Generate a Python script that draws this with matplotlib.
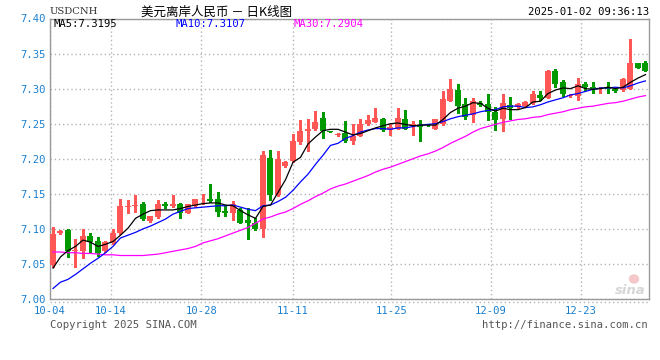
import matplotlib
matplotlib.use("Agg")
import matplotlib.pyplot as plt
from matplotlib.lines import Line2D
from matplotlib.patches import Ellipse
import numpy as np

# daily candles, 2024-10-04 .. 2025-01-02
opens = [7.048, 7.094, 7.098, 7.069, 7.068, 7.090, 7.082, 7.068, 7.080, 7.094,
         7.131, 7.132, 7.136, 7.111, 7.117, 7.136, 7.133, 7.136, 7.123, 7.132,
         7.142, 7.143, 7.142, 7.125, 7.123, 7.127, 7.112, 7.109, 7.100, 7.201,
         7.148, 7.189, 7.197, 7.224, 7.240, 7.242, 7.258, 7.239, 7.234, 7.237,
         7.225, 7.233, 7.249, 7.253, 7.257, 7.241, 7.243, 7.257, 7.246, 7.248,
         7.247, 7.243, 7.249, 7.283, 7.298, 7.278, 7.262, 7.279, 7.278, 7.267,
         7.256, 7.276, 7.274, 7.275, 7.279, 7.291, 7.287, 7.325, 7.309, 7.289,
         7.290, 7.307, 7.303, 7.299, 7.302, 7.300, 7.298, 7.300, 7.336, 7.337]
highs = [7.103, 7.098, 7.100, 7.085, 7.100, 7.094, 7.089, 7.082, 7.100, 7.143,
         7.141, 7.148, 7.139, 7.119, 7.141, 7.138, 7.149, 7.137, 7.136, 7.143,
         7.150, 7.164, 7.153, 7.132, 7.140, 7.130, 7.130, 7.116, 7.211, 7.213,
         7.211, 7.197, 7.236, 7.255, 7.256, 7.268, 7.266, 7.240, 7.237, 7.254,
         7.250, 7.256, 7.263, 7.272, 7.258, 7.250, 7.272, 7.270, 7.254, 7.255,
         7.248, 7.257, 7.297, 7.314, 7.306, 7.287, 7.287, 7.282, 7.292, 7.274,
         7.293, 7.288, 7.280, 7.282, 7.296, 7.297, 7.327, 7.328, 7.312, 7.292,
         7.315, 7.310, 7.309, 7.303, 7.310, 7.300, 7.315, 7.371, 7.337, 7.339]
lows = [7.046, 7.093, 7.060, 7.045, 7.059, 7.067, 7.062, 7.067, 7.079, 7.093,
        7.123, 7.124, 7.113, 7.110, 7.116, 7.130, 7.131, 7.116, 7.122, 7.131,
        7.135, 7.139, 7.118, 7.118, 7.113, 7.108, 7.086, 7.099, 7.088, 7.141,
        7.147, 7.188, 7.196, 7.221, 7.211, 7.241, 7.230, 7.238, 7.233, 7.224,
        7.221, 7.232, 7.248, 7.252, 7.240, 7.234, 7.242, 7.242, 7.234, 7.226,
        7.246, 7.242, 7.248, 7.282, 7.265, 7.257, 7.253, 7.275, 7.255, 7.241,
        7.240, 7.257, 7.272, 7.274, 7.278, 7.284, 7.286, 7.303, 7.290, 7.288,
        7.284, 7.298, 7.294, 7.294, 7.294, 7.295, 7.296, 7.299, 7.330, 7.325]
closes = [7.093, 7.097, 7.068, 7.070, 7.090, 7.081, 7.066, 7.081, 7.094, 7.132,
          7.133, 7.134, 7.114, 7.118, 7.135, 7.133, 7.136, 7.123, 7.135, 7.142,
          7.143, 7.140, 7.124, 7.123, 7.136, 7.109, 7.109, 7.100, 7.205, 7.148,
          7.199, 7.196, 7.226, 7.240, 7.243, 7.252, 7.239, 7.238, 7.236, 7.225,
          7.233, 7.250, 7.255, 7.258, 7.241, 7.245, 7.258, 7.243, 7.249, 7.245,
          7.246, 7.256, 7.285, 7.299, 7.275, 7.260, 7.282, 7.277, 7.267, 7.255,
          7.279, 7.273, 7.278, 7.281, 7.292, 7.287, 7.325, 7.307, 7.292, 7.291,
          7.307, 7.303, 7.300, 7.301, 7.299, 7.296, 7.314, 7.336, 7.330, 7.325]

ma5 = [7.044, 7.060, 7.069, 7.075, 7.084, 7.081, 7.075, 7.078, 7.082, 7.091,
       7.101, 7.115, 7.121, 7.126, 7.127, 7.127, 7.127, 7.129, 7.132, 7.134,
       7.136, 7.137, 7.137, 7.134, 7.133, 7.126, 7.120, 7.115, 7.132, 7.134,
       7.152, 7.170, 7.195, 7.202, 7.221, 7.231, 7.240, 7.242, 7.242, 7.238,
       7.234, 7.236, 7.240, 7.244, 7.247, 7.250, 7.251, 7.249, 7.247, 7.248,
       7.248, 7.248, 7.256, 7.266, 7.272, 7.275, 7.280, 7.279, 7.272, 7.268,
       7.272, 7.270, 7.270, 7.273, 7.281, 7.282, 7.293, 7.298, 7.301, 7.300,
       7.304, 7.300, 7.299, 7.300, 7.302, 7.300, 7.302, 7.309, 7.315, 7.320]
ma10 = [7.015, 7.024, 7.028, 7.035, 7.043, 7.051, 7.058, 7.066, 7.075, 7.087,
        7.091, 7.095, 7.100, 7.104, 7.109, 7.114, 7.121, 7.125, 7.129, 7.130,
        7.131, 7.132, 7.133, 7.133, 7.134, 7.131, 7.128, 7.126, 7.133, 7.134,
        7.139, 7.145, 7.155, 7.167, 7.178, 7.192, 7.205, 7.219, 7.222, 7.229,
        7.233, 7.238, 7.241, 7.243, 7.243, 7.242, 7.244, 7.244, 7.246, 7.248,
        7.249, 7.250, 7.253, 7.257, 7.260, 7.262, 7.264, 7.267, 7.269, 7.270,
        7.274, 7.275, 7.275, 7.273, 7.274, 7.277, 7.281, 7.284, 7.287, 7.291,
        7.293, 7.296, 7.299, 7.301, 7.301, 7.302, 7.301, 7.304, 7.308, 7.311]
ma30 = [7.067, 7.067, 7.066, 7.066, 7.065, 7.065, 7.064, 7.063, 7.063, 7.062,
        7.062, 7.062, 7.062, 7.063, 7.064, 7.066, 7.068, 7.070, 7.072, 7.075,
        7.080, 7.083, 7.086, 7.090, 7.094, 7.098, 7.102, 7.108, 7.114, 7.117,
        7.121, 7.124, 7.129, 7.135, 7.140, 7.146, 7.151, 7.157, 7.161, 7.164,
        7.168, 7.172, 7.176, 7.181, 7.185, 7.188, 7.192, 7.196, 7.200, 7.204,
        7.207, 7.211, 7.216, 7.222, 7.227, 7.232, 7.238, 7.243, 7.246, 7.249,
        7.252, 7.254, 7.256, 7.257, 7.259, 7.260, 7.263, 7.265, 7.267, 7.270,
        7.272, 7.274, 7.275, 7.277, 7.279, 7.280, 7.282, 7.285, 7.288, 7.290]

date_labels = ["10-04", "10-14", "10-28", "11-11", "11-25", "12-09", "12-23"]
date_pos = [-0.4, 7.7, 19.8, 32.0, 45.1, 58.4, 70.4]
y_ticks = [7.00, 7.05, 7.10, 7.15, 7.20, 7.25, 7.30, 7.35, 7.40]
ma_labels = ["MA5:7.3195", "MA10:7.3107", "MA30:7.2904"]

RED = "#ff5656"
GREEN = "#009a00"
AXIS_BLUE = "#1a80d0"
FRAME = "#9a9a9a"
MONO = "DejaVu Sans Mono"

W, H = 660, 360
fig = plt.figure(figsize=(6.6, 3.6), dpi=100)
fig.patch.set_facecolor("white")


def fx(px):
    return px / W


def fy(py):
    return 1 - py / H


ax = fig.add_axes([fx(50), fy(299), fx(649) - fx(50), fy(18.5) - fy(299)])
ax.set_xlim(-0.4, 79.47)
ax.set_ylim(7.0, 7.4)

x = np.arange(len(closes))
o = np.array(opens)
c = np.array(closes)
up = c >= o
colors = np.where(up, RED, GREEN)

ax.vlines(x, lows, highs, colors=colors, linewidth=1, zorder=2, antialiased=False)
body_low = np.minimum(o, c)
body_h = np.maximum(np.abs(c - o), 0.0012)
ax.bar(x, body_h, bottom=body_low, width=0.8, color=colors, linewidth=0,
       zorder=3, antialiased=False)

ax.plot(x, ma30, color="#ff00ff", linewidth=0.9, zorder=4)
ax.plot(x, ma10, color="#0000ff", linewidth=0.9, zorder=5)
ax.plot(x, ma5, color="black", linewidth=0.9, zorder=6)

# grid
ax.set_yticks(y_ticks)
ax.set_yticklabels([f"{v:.2f}" for v in y_ticks])
ax.set_xticks(date_pos)
ax.set_xticklabels(date_labels)
ax.grid(True, color="#b4b4b4", linestyle=(0, (1, 2)), linewidth=1)
ax.tick_params(length=0, colors=AXIS_BLUE, labelsize=7.6)
ax.tick_params(axis="y", pad=3)
ax.tick_params(axis="x", pad=5)
for lab in ax.get_xticklabels() + ax.get_yticklabels():
    lab.set_family(MONO)
for sp in ax.spines.values():
    sp.set_color(FRAME)
    sp.set_linewidth(1)

# dotted line under the frame
fig.add_artist(Line2D([fx(50), fx(649)], [fy(302), fy(302)], color="#b4b4b4",
                      linestyle=(0, (1, 2)), linewidth=1))

# header
fig.text(fx(50), fy(12), "USDCNH", family="DejaVu Serif", fontsize=7.2,
         color="#333333", va="center", ha="left")
fig.text(fx(141), fy(12), "美元离岸人民币 － 日K线图",
         family=["Noto Sans CJK SC", "DejaVu Sans"], fontsize=9, color="black",
         va="center", ha="left")
fig.text(fx(649), fy(12), "2025-01-02 09:36:13", family=MONO, fontsize=7.6,
         color="black", va="center", ha="right")

for lbl, px, col in zip(ma_labels, [54, 175, 293], ["black", "#0000ff", "#ff00ff"]):
    fig.text(fx(px), fy(24), lbl, family=MONO, fontsize=7.6, color=col,
             va="center", ha="left")

# footer
fig.text(fx(50), fy(325), "Copyright 2025 SINA.COM", family=MONO, fontsize=7.6,
         color="#555555", va="center", ha="left")
fig.text(fx(648), fy(325), "http://finance.sina.com.cn", family=MONO, fontsize=7.6,
         color="#555555", va="center", ha="right")

# sina watermark
fig.add_artist(Ellipse((fx(634), fy(279)), fx(9), 8 / H, color="#f4c8c8", zorder=1))
fig.text(fx(646), fy(290), "sina", fontsize=9.5, fontweight="bold", style="italic",
         color="#d6d6d6", va="center", ha="right")

fig.savefig("out.png", dpi=100)
